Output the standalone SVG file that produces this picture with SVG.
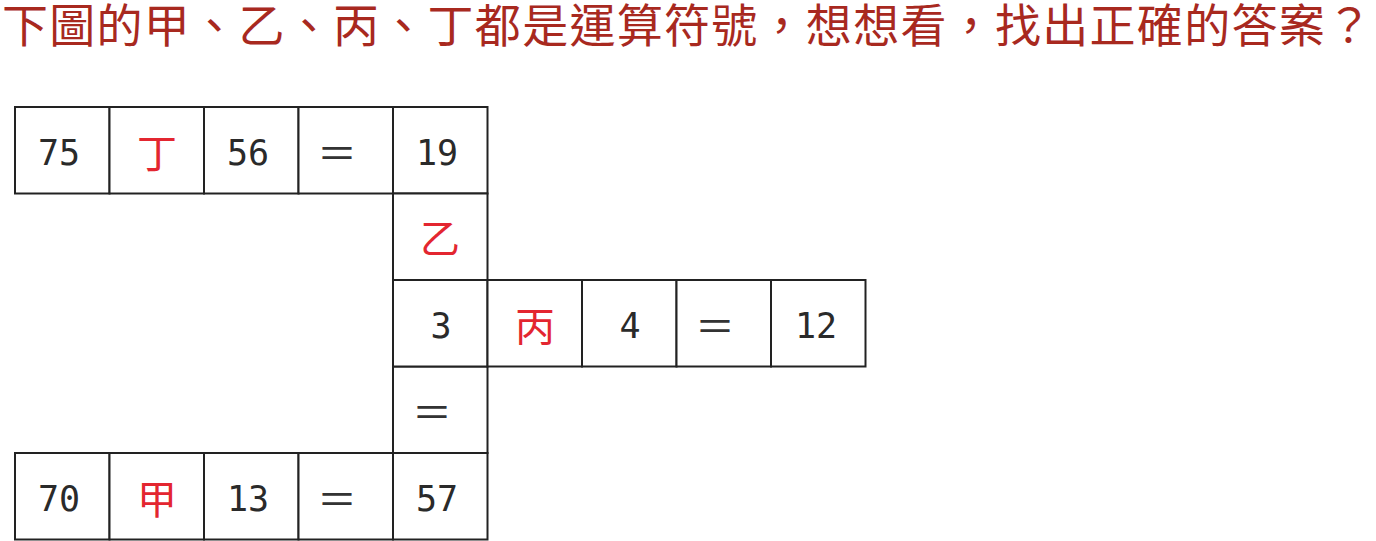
<svg xmlns="http://www.w3.org/2000/svg" width="1376" height="541" viewBox="0 0 1376 541">
<style>
.cell{fill:#fff;stroke:#222;stroke-width:2}
.num{font-family:"DejaVu Sans Mono","Liberation Mono",monospace;font-size:35px;fill:#2a2a2a;text-anchor:middle}
.op{font-family:"Noto Sans CJK TC","Noto Sans CJK SC",sans-serif;font-size:40px;fill:#e32630;text-anchor:middle}
.eq{font-family:"Noto Sans CJK TC","Noto Sans CJK SC",sans-serif;font-size:40px;fill:#333;text-anchor:middle}
.title{font-family:"Noto Sans CJK TC","Noto Sans CJK SC",sans-serif;font-size:46px;fill:#a8291f}
</style>
<rect width="1376" height="541" fill="#fff"/>
<text class="title" x="2" y="42" textLength="1370" lengthAdjust="spacing">下圖的甲、乙、丙、丁都是運算符號，想想看，找出正確的答案？</text>

<g id="row1">
<g id="r1c1"><rect class="cell" x="15" y="107" width="94.5" height="86.5"/><text class="num" x="59" y="165">75</text></g>
<g id="r1c2"><rect class="cell" x="109.5" y="107" width="94.5" height="86.5"/><text class="op" x="157" y="168">丁</text></g>
<g id="r1c3"><rect class="cell" x="204" y="107" width="94.5" height="86.5"/><text class="num" x="248" y="165">56</text></g>
<g id="r1c4"><rect class="cell" x="298.5" y="107" width="94.5" height="86.5"/><text class="eq" x="337" y="168">＝</text></g>
<g id="r1c5"><rect class="cell" x="393" y="107" width="94.5" height="86.5"/><text class="num" x="437" y="165">19</text></g>
</g>

<g id="col2">
<g id="v1"><rect class="cell" x="393" y="193.5" width="94.5" height="86.5"/><text class="op" x="440" y="253">乙</text></g>
<g id="v3"><rect class="cell" x="393" y="366.5" width="94.5" height="86.5"/><text class="eq" x="432" y="427">＝</text></g>
</g>

<g id="row2">
<g id="r2c1"><rect class="cell" x="393" y="280" width="94.5" height="86.5"/><text class="num" x="441" y="338">3</text></g>
<g id="r2c2"><rect class="cell" x="487.5" y="280" width="94.5" height="86.5"/><text class="op" x="535" y="341">丙</text></g>
<g id="r2c3"><rect class="cell" x="582" y="280" width="94.5" height="86.5"/><text class="num" x="630" y="338">4</text></g>
<g id="r2c4"><rect class="cell" x="676.5" y="280" width="94.5" height="86.5"/><text class="eq" x="715" y="341">＝</text></g>
<g id="r2c5"><rect class="cell" x="771" y="280" width="94.5" height="86.5"/><text class="num" x="816" y="338">12</text></g>
</g>

<g id="row3">
<g id="r3c1"><rect class="cell" x="15" y="453" width="94.5" height="86.5"/><text class="num" x="59" y="511">70</text></g>
<g id="r3c2"><rect class="cell" x="109.5" y="453" width="94.5" height="86.5"/><text class="op" x="157" y="514">甲</text></g>
<g id="r3c3"><rect class="cell" x="204" y="453" width="94.5" height="86.5"/><text class="num" x="248" y="511">13</text></g>
<g id="r3c4"><rect class="cell" x="298.5" y="453" width="94.5" height="86.5"/><text class="eq" x="337" y="514">＝</text></g>
<g id="r3c5"><rect class="cell" x="393" y="453" width="94.5" height="86.5"/><text class="num" x="437" y="511">57</text></g>
</g>
<g id="connectors"/>
</svg>
